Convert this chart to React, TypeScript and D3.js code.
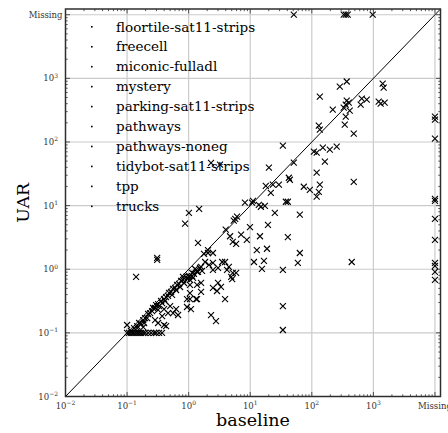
import React from 'react';
import * as d3 from 'd3';

const categories: string[] = [
  'floortile-sat11-strips', 'freecell', 'miconic-fulladl', 'mystery', 'parking-sat11-strips',
  'pathways', 'pathways-noneg', 'tidybot-sat11-strips', 'tpp', 'trucks',
];

// null = "Missing"
const baseline: (number | null)[] = [
  51, 330, 356, 383, 975,
  null, null, null, null, null, null, null, null, null, null, null,
  285, 369, 1416, 1469, 135, 369, 398, 356, 647, 780, 622, 1219, 1312, 1524, 219, 330, 413, 356, 343, 480,
  130, 135, 33.9, 108, 120, 151, 196, 254, 163, 51, 20.1, 120, 42.4, 44, 480, 17.9, 23.3, 29.2, 21.6, 74.1,
  92.9, 135, 130, 120, 8.2, 11.1, 10.7, 13.8, 14.9, 17.3, 37.9, 40.8, 25.1, 63.9, 19.4, 9.9, 6.1, 5.4, 5.7,
  4.0, 4.7, 7.1, 14.4, 40.8, 8.8, 5.2, 5.9, 12.8, 18.7, 63.9, 11.5, 16.7, 59.3, 445, 15.5, 33.9, 3.9, 4.2,
  5.2, 5.9, 5.1, 4.9, 3.9, 33.9, 33.9,
  1.01, 1.48, 0.875, 1.42, 2.06, 2.48, 1.78, 2.06, 1.85, 2.14, 2.48, 3.5, 3.0, 4.5, 1.27, 1.37, 0.81, 1.01,
  1.14, 1.18, 0.308, 0.308, 0.14, 2.48, 2.89, 3.35, 2.48, 1.59, 1.37, 2.31, 2.78, 1.09, 1.05, 0.94, 1.32,
  1.59, 1.05, 3.0, 1.59, 1.37, 1.05, 0.94, 2.31, 3.23,
  0.116, 0.13, 0.146, 0.157, 0.169, 0.183, 0.196, 0.212, 0.22, 0.237, 0.255, 0.265, 0.285, 0.296, 0.319,
  0.331, 0.357, 0.371, 0.399, 0.414, 0.43, 0.463, 0.481, 0.519, 0.538, 0.558, 0.602, 0.625, 0.649, 0.699,
  0.726, 0.753, 0.811, 0.842, 0.908, 0.942, 1.02, 1.05, 1.14, 1.22, 1.32, 1.42, 1.53, 1.65,
  0.319, 0.371, 0.399, 0.463, 0.558, 0.625, 0.673, 0.5, 0.285, 0.189, 0.319, 0.399, 0.43, 0.1, 0.146, 0.183,
  0.1, 0.108, 0.117, 0.126, 0.136, 0.146, 0.157, 0.169, 0.183, 0.197, 0.22, 0.246, 0.275, 0.296, 0.331, 0.37,
];

const uar: (number | null)[] = [
  null, null, null, null, null,
  250, 224, 113, 12.8, 11.9, 6.2, 2.9, 1.26, 1.13, 0.91, 0.68,
  743, 892, 828, 716, 516, 447, 416, 387, 480, 463, 387, 431, 401, 416, 323, 347, 311, 250, 187, 135,
  181, 156, 87.5, 70.3, 67.8, 81.3, 75.7, 84.3, 49, 47.2, 39.4, 32.9, 27.4, 25.5, 23.7, 20.5, 21.3, 21.3, 15.9, 19.8,
  17.7, 21.3, 16.5, 13.8, 11.1, 11.9, 11.1, 10.3, 9.6, 9.9, 11.5, 11.5, 7.7, 7.2, 5.0, 4.6, 6.7, 5.8, 6.2,
  4.2, 3.3, 3.5, 3.3, 3.2, 2.9, 2.7, 2.5, 2.0, 2.1, 1.8, 1.3, 1.35, 1.26, 1.3, 1.01, 0.975, 1.3, 0.975,
  0.875, 0.875, 0.7, 0.76, 0.34, 0.264, 0.111,
  7.7, 8.9, 5.2, 2.6, 2.0, 1.8, 1.74, 1.8, 1.3, 1.17, 1.26, 1.3, 1.05, 1.09, 1.01, 0.91, 0.76, 0.76,
  0.78, 0.73, 1.51, 1.4, 0.76, 0.51, 0.455, 0.53, 0.975, 0.44, 0.34, 0.19, 0.153, 0.237, 0.34, 0.34, 0.34,
  1.09, 0.566, 0.61, 0.61, 0.57, 0.42, 0.255, 47, 43.9,
  0.107, 0.119, 0.128, 0.143, 0.138, 0.159, 0.171, 0.171, 0.198, 0.205, 0.22, 0.246, 0.246, 0.274, 0.284,
  0.264, 0.317, 0.294, 0.34, 0.317, 0.366, 0.38, 0.424, 0.44, 0.394, 0.49, 0.508, 0.472, 0.566, 0.587,
  0.526, 0.655, 0.678, 0.608, 0.757, 0.703, 0.784, 0.678, 0.875, 0.843, 0.975, 0.906, 1.05, 0.94,
  0.229, 0.184, 0.237, 0.205, 0.205, 0.237, 0.191, 0.264, 0.159, 0.143, 0.143, 0.133, 0.128, 0.133, 0.119, 0.123,
  0.1, 0.1, 0.1, 0.1, 0.1, 0.1, 0.1, 0.1, 0.1, 0.1, 0.1, 0.1, 0.1, 0.1, 0.1, 0.1,
];

const majorTicks: number[] = [0.01, 0.1, 1, 10, 100, 1000];
const majorExponents: string[] = ['\u22122', '\u22121', '0', '1', '2', '3'];
const missingLabel = 'Missing';
const missingValue = 10000;
const domainMax = Math.pow(10, 4.09);

const W = 448;
const H = 433;
const left = 65.5, right = 440.5, top = 9, bottom = 396.5;
const FONT = '"DejaVu Serif", "Liberation Serif", serif';

export default function App() {
  const x = d3.scaleLog().domain([0.01, domainMax]).range([left, right]);
  const y = d3.scaleLog().domain([0.01, domainMax]).range([bottom, top]);

  const minor: number[] = [];
  for (let e = -2; e <= 3; e++) {
    for (let k = 2; k <= 9; k++) minor.push(k * Math.pow(10, e));
  }
  const gridVals = [0.1, 1, 10, 100, 1000, missingValue];
  const majorAll = [...majorTicks, missingValue];

  const pts = baseline.map((b, i) => ({
    px: x(b === null ? missingValue : b),
    py: y(uar[i] === null ? missingValue : (uar[i] as number)),
  }));

  const s = 3;
  const legendY0 = 26.5;
  const legendStep = 19.95;

  return (
    <svg width={W} height={H} style={{ position: 'absolute', left: 0, top: 0, background: '#fff' }}>
      <rect x={0} y={0} width={W} height={H} fill="#fff" />
      {/* grid */}
      <g stroke="#cbcbcb" strokeWidth={1.2}>
        {gridVals.map((v, i) => (
          <line key={'gx' + i} x1={x(v)} x2={x(v)} y1={top} y2={bottom} />
        ))}
        {gridVals.map((v, i) => (
          <line key={'gy' + i} x1={left} x2={right} y1={y(v)} y2={y(v)} />
        ))}
      </g>
      {/* diagonal */}
      <line x1={x(0.01)} y1={y(0.01)} x2={x(domainMax)} y2={y(domainMax)} stroke="#000" strokeWidth={1} />
      {/* points */}
      <g stroke="#000" strokeWidth={1.1}>
        {pts.map((p, i) => (
          <path key={i} d={`M${p.px - s},${p.py - s}L${p.px + s},${p.py + s}M${p.px - s},${p.py + s}L${p.px + s},${p.py - s}`} />
        ))}
      </g>
      {/* legend */}
      <g fontFamily={FONT} fontSize={13.5} fill="#000">
        {categories.map((c, i) => (
          <g key={c}>
            <rect x={91} y={legendY0 + i * legendStep - 0.5} width={1.6} height={1.6} fill="#000" />
            <text x={116} y={legendY0 + i * legendStep} dominantBaseline="central">{c}</text>
          </g>
        ))}
      </g>
      {/* frame */}
      <rect x={left} y={top} width={right - left} height={bottom - top} fill="none" stroke="#2e2e2e" strokeWidth={1.5} />
      {/* ticks */}
      <g stroke="#2e2e2e" strokeWidth={0.8}>
        {majorAll.map((v, i) => (
          <g key={'mt' + i}>
            <line x1={x(v)} x2={x(v)} y1={bottom} y2={bottom - 4.5} />
            <line x1={x(v)} x2={x(v)} y1={top} y2={top + 4.5} />
            <line x1={left} x2={left + 4.5} y1={y(v)} y2={y(v)} />
            <line x1={right} x2={right - 4.5} y1={y(v)} y2={y(v)} />
          </g>
        ))}
        {minor.map((v, i) => (
          <g key={'mn' + i}>
            <line x1={x(v)} x2={x(v)} y1={bottom} y2={bottom - 2.2} />
            <line x1={x(v)} x2={x(v)} y1={top} y2={top + 2.2} />
            <line x1={left} x2={left + 2.2} y1={y(v)} y2={y(v)} />
            <line x1={right} x2={right - 2.2} y1={y(v)} y2={y(v)} />
          </g>
        ))}
      </g>
      {/* tick labels */}
      <g fontFamily={FONT} fill="#333">
        {majorTicks.map((v, i) => (
          <text key={'xl' + i} x={x(v)} y={408.5} textAnchor="middle" fontSize={8.5}>
            10<tspan fontSize={6} dy={-3.5}>{majorExponents[i]}</tspan>
          </text>
        ))}
        <text x={x(missingValue)} y={408.5} textAnchor="middle" fontSize={8.5}>{missingLabel}</text>
        {majorTicks.map((v, i) => (
          <text key={'yl' + i} x={58} y={y(v) + 3} textAnchor="end" fontSize={8.5}>
            10<tspan fontSize={6} dy={-3.5}>{majorExponents[i]}</tspan>
          </text>
        ))}
        <text x={62.5} y={y(missingValue) + 3} textAnchor="end" fontSize={8.5}>{missingLabel}</text>
      </g>
      {/* axis titles */}
      <text x={(left + right) / 2} y={426} textAnchor="middle" fontFamily={FONT} fontSize={17.5} fill="#000">baseline</text>
      <text transform={`translate(28.5, ${(top + bottom) / 2}) rotate(-90)`} textAnchor="middle" fontFamily={FONT} fontSize={17.5} fill="#000">UAR</text>
    </svg>
  );
}
